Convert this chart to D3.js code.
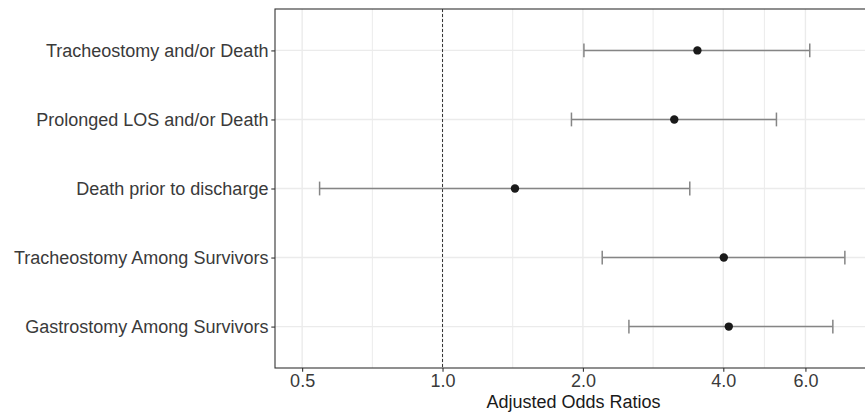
<!DOCTYPE html>
<html>
<head>
<meta charset="utf-8">
<script src="https://cdn.jsdelivr.net/npm/d3@7"></script>
<style>
  body { margin: 0; background: #fff; }
  svg { display: block; font-family: "Liberation Sans", Arial, Helvetica, sans-serif; }
</style>
</head>
<body>
<div id="forest"></div>
<script>
// values
const outcomes = [
  "Tracheostomy and/or Death",
  "Prolonged LOS and/or Death",
  "Death prior to discharge",
  "Tracheostomy Among Survivors",
  "Gastrostomy Among Survivors"
];
const oddsRatios = [3.52, 3.14, 1.43, 4.01, 4.11];
const lowerCI = [2.01, 1.89, 0.545, 2.20, 2.51];
const upperCI = [6.13, 5.20, 3.39, 7.29, 6.87];
const xTicks = [0.5, 1.0, 2.0, 4.0, 6.0];
const xLimits = [0.5, d3.max(upperCI)];
const refLine = 1.0;

const data = outcomes.map((d, i) => ({ name: d, or: oddsRatios[i], lo: lowerCI[i], hi: upperCI[i] }));

const width = 865, height = 414;
const margins = { top: 9, bottom: 46, left: 275, right: -7 };
const fontSize = 18;

// ggplot style 5% expansion in log space
const lg = xLimits.map(Math.log);
const pad = (lg[1] - lg[0]) * 0.05;
const xScale = d3.scaleLog()
  .domain([Math.exp(lg[0] - pad), Math.exp(lg[1] + pad)])
  .range([margins.left, width - margins.right]);

const yScale = d3.scalePoint()
  .domain(outcomes)
  .range([margins.top, height - margins.bottom])
  .padding(0.6);

const minorTicks = d3.pairs(xTicks).map(([a, b]) => Math.sqrt(a * b));

const svg = d3.select("#forest")
  .append("svg")
  .attr("width", width)
  .attr("height", height);

const px0 = margins.left, px1 = width - margins.right;
const py0 = margins.top, py1 = height - margins.bottom;

// grid
svg.append("g")
  .selectAll("line")
  .data(minorTicks)
  .join("line")
  .attr("x1", d => xScale(d)).attr("x2", d => xScale(d))
  .attr("y1", py0).attr("y2", py1)
  .attr("stroke", "#ebebeb").attr("stroke-width", 1);

svg.append("g")
  .selectAll("line")
  .data(xTicks)
  .join("line")
  .attr("x1", d => xScale(d)).attr("x2", d => xScale(d))
  .attr("y1", py0).attr("y2", py1)
  .attr("stroke", "#ebebeb").attr("stroke-width", 1.4);

svg.append("g")
  .selectAll("line")
  .data(outcomes)
  .join("line")
  .attr("x1", px0).attr("x2", px1)
  .attr("y1", d => yScale(d)).attr("y2", d => yScale(d))
  .attr("stroke", "#ebebeb").attr("stroke-width", 1.4);

// reference line at OR = 1
svg.append("line")
  .attr("x1", xScale(refLine)).attr("x2", xScale(refLine))
  .attr("y1", py0).attr("y2", py1)
  .attr("stroke", "#333").attr("stroke-width", 1)
  .attr("stroke-dasharray", "3,2");

// error bars
const capHalf = yScale.step() * 0.1;
const bars = svg.append("g")
  .selectAll("g")
  .data(data)
  .join("g")
  .attr("stroke", "#858585")
  .attr("stroke-width", 1.5);

bars.append("line")
  .attr("x1", d => xScale(d.lo)).attr("x2", d => xScale(d.hi))
  .attr("y1", d => yScale(d.name)).attr("y2", d => yScale(d.name));
bars.append("line")
  .attr("x1", d => xScale(d.lo)).attr("x2", d => xScale(d.lo))
  .attr("y1", d => yScale(d.name) - capHalf).attr("y2", d => yScale(d.name) + capHalf);
bars.append("line")
  .attr("x1", d => xScale(d.hi)).attr("x2", d => xScale(d.hi))
  .attr("y1", d => yScale(d.name) - capHalf).attr("y2", d => yScale(d.name) + capHalf);

// points
svg.append("g")
  .selectAll("circle")
  .data(data)
  .join("circle")
  .attr("cx", d => xScale(d.or))
  .attr("cy", d => yScale(d.name))
  .attr("r", 4.2)
  .attr("fill", "#1a1a1a");

// panel border
svg.append("rect")
  .attr("x", px0).attr("y", py0)
  .attr("width", px1 - px0).attr("height", py1 - py0)
  .attr("fill", "none")
  .attr("stroke", "#333").attr("stroke-width", 1.1);

// axes
const xAxis = d3.axisBottom(xScale)
  .tickValues(xTicks)
  .tickFormat(d3.format(".1f"))
  .tickSize(3.7)
  .tickPadding(2.9);

const yAxis = d3.axisLeft(yScale)
  .tickSize(3.7)
  .tickPadding(2.9);

const gx = svg.append("g")
  .attr("transform", `translate(0, ${py1})`)
  .call(xAxis);
const gy = svg.append("g")
  .attr("transform", `translate(${px0}, 0)`)
  .call(yAxis);

[gx, gy].forEach(g => {
  g.select(".domain").remove();
  g.selectAll(".tick line").attr("stroke", "#333").attr("stroke-width", 1.1);
  g.selectAll(".tick text")
    .attr("fill", "#3a3a3a")
    .style("font-size", fontSize + "px")
    .style("font-family", "'Liberation Sans', Arial, Helvetica, sans-serif");
});

svg.append("text")
  .attr("x", (px0 + px1) / 2)
  .attr("y", 408)
  .attr("text-anchor", "middle")
  .attr("fill", "#1a1a1a")
  .style("font-size", fontSize + "px")
  .text("Adjusted Odds Ratios");
</script>
</body>
</html>
